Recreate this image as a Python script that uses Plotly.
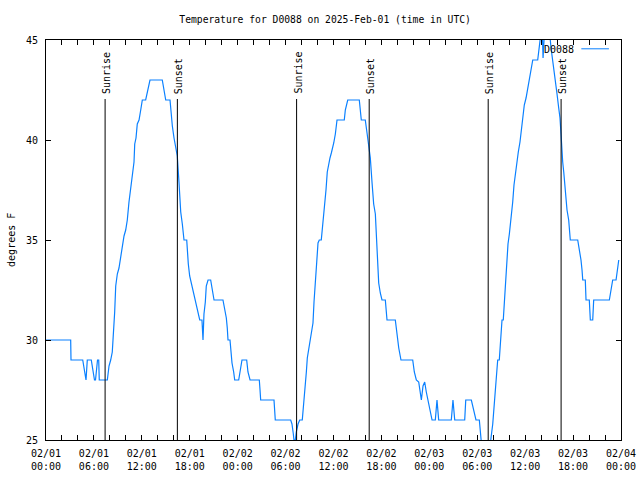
import pandas as pd
import plotly.graph_objects as go

# ---- data (hours after 2025-02-01 00:00 UTC, temperature in degrees F) ----
hours = [
    0, 3.09, 3.13, 4.60, 5.01, 5.17, 5.67, 6.07, 6.20, 6.32, 6.45, 6.60, 6.67, 7.68,
    7.89, 8.10, 8.30, 8.39, 8.52, 8.60, 8.73, 8.93, 9.14, 9.35, 9.55, 9.77, 9.98, 10.18,
    10.39, 10.61, 10.81, 11.02, 11.11, 11.27, 11.43, 11.65, 11.86, 12.06, 12.48, 12.68,
    13.02, 14.56, 14.78, 14.99, 15.53, 15.69, 15.82, 16.03, 16.24, 16.44, 16.65, 16.87,
    17.07, 17.28, 17.62, 17.69, 17.82, 17.99, 18.19, 18.41, 18.62, 18.82, 19.03, 19.25,
    19.53, 19.66, 19.78, 19.95, 20.07, 20.29, 20.62, 20.79, 21.04, 22.16, 22.38, 22.58,
    22.70, 22.79, 23.04, 23.13, 23.29, 23.50, 23.63, 24.13, 24.33, 24.54, 25.13, 25.29,
    25.55, 26.71, 26.80, 26.88, 28.55, 28.71, 30.64, 30.80, 30.97, 31.05, 31.22, 31.34,
    31.56, 31.77, 32.09, 32.22, 32.39, 32.47, 32.60, 32.72, 32.90, 33.06, 33.22, 33.43,
    33.56, 33.72, 33.90, 34.06, 34.22, 34.47, 34.60, 34.72, 34.90, 35.06, 35.22, 35.40,
    35.56, 35.73, 35.90, 36.03, 36.23, 36.44, 37.35, 37.48, 37.78, 39.23, 39.48, 39.98,
    40.20, 40.41, 40.61, 40.82, 41.03, 41.24, 41.36, 41.49, 41.66, 41.86, 42.07, 42.49,
    42.70, 43.74, 43.95, 44.17, 44.45, 45.92, 46.12, 46.37, 46.67, 46.87, 47.00, 47.21,
    47.42, 47.62, 47.83, 48.12, 48.34, 48.75, 48.96, 49.17, 50.75, 50.96, 51.18, 52.43,
    52.56, 53.26, 53.56, 53.84, 54.26, 54.43, 54.53, 54.97, 55.69, 55.94, 56.14, 56.26,
    56.44, 56.56, 56.76, 56.85, 56.98, 57.10, 57.26, 57.39, 57.51, 57.69, 57.85, 58.02,
    58.23, 58.44, 58.60, 58.77, 58.94, 59.14, 59.35, 59.52, 59.69, 59.89, 60.11, 60.32,
    60.52, 60.73, 60.95, 61.57, 61.70, 61.86, 61.99, 62.15, 62.24, 62.42, 63.05, 63.24,
    63.53, 63.78, 63.99, 64.20, 64.36, 64.49, 64.58, 64.70, 64.83, 65.03, 65.24, 65.45,
    65.65, 66.58, 66.78, 66.99, 67.12, 67.21, 67.53, 67.62, 68.03, 68.16, 68.46, 68.58,
    70.54, 70.75, 70.96, 71.38, 71.59, 71.72,
]
temps = [
    30, 30, 29, 29, 28, 29, 29, 28, 28, 28.5, 29, 29, 28, 28,
    28.7, 29, 29.4, 30, 30.6, 31.4, 32.7, 33.3, 33.6, 34.2, 34.8, 35.2, 35.5, 36,
    36.9, 37.6, 38.3, 38.9, 39.8, 40.1, 40.8, 41, 41.5, 42, 42, 42.4,
    43, 43, 42.4, 42, 42, 41.1, 40.7, 40.1, 39.6, 39.2, 37.9, 36.4,
    35.8, 35, 35, 34.4, 33.8, 33.2, 32.85, 32.5, 32, 31.7, 31.4, 31,
    31, 30, 31.3, 31.9, 32.7, 33, 33, 32.6, 32, 32, 31.5, 31.1,
    30.6, 30, 30, 29.4, 28.85, 28.4, 28, 28, 28.4, 29, 29, 28.4,
    28, 28, 27.5, 27, 27, 26, 26, 25.8, 25.3, 25, 25, 25.4,
    25.8, 26, 26, 26.6, 27.1, 27.8, 28.4, 29.1, 29.5, 29.9, 30.4, 30.85,
    31.9, 33.2, 33.9, 34.85, 35, 35, 35.5, 36.1, 36.9, 37.5, 38.4, 38.85,
    39.1, 39.35, 39.6, 39.85, 40.3, 41, 41, 41.5, 42, 42, 41, 41,
    40.35, 39.8, 39.1, 37.9, 36.8, 36.3, 35.2, 33.8, 32.85, 32.35, 32, 32,
    31, 31, 30.3, 29.6, 29, 29, 28.4, 28, 27.9, 27.4, 27, 27.7,
    27.9, 27.4, 27, 26.5, 26, 26, 27, 26, 26, 27, 26, 26,
    27, 27, 26.5, 26, 26, 25.4, 24.8, 24.5, 25, 25.8, 26.8, 27.8,
    28.4, 29, 29, 29.5, 30.4, 31, 31, 31.9, 32.7, 33.6, 34.8, 35.3,
    36, 36.9, 37.75, 38.35, 38.85, 39.4, 39.9, 40.5, 41.1, 41.75, 42.1, 42.6,
    43, 43.5, 44, 44, 44.4, 44.9, 45.4, 45.4, 44.1, 45.4, 45.4, 44.6,
    43.8, 42.9, 42.3, 41.6, 41.1, 40.3, 39.6, 38.9, 38.4, 37.4, 36.5, 36,
    35, 35, 34.6, 34, 33.5, 33, 33, 32, 32, 31, 31, 32,
    32, 32.5, 33, 33, 33.5, 34,
]
sunrise_hours = [7.40, 31.38, 55.37]
sunset_hours = [16.45, 40.47, 64.50]
series_name = "D0088"
title_text = "Temperature for D0088 on 2025-Feb-01 (time in UTC)"
y_label = "degrees F"
start = pd.Timestamp("2025-02-01 00:00")
end = pd.Timestamp("2025-02-04 00:00")

def to_time(h):
    return start + pd.to_timedelta(h, unit="h")

times = [to_time(h) for h in hours]

FONT = "DejaVu Sans Mono"
LINE_COLOR = "#0a80ff"
fig = go.Figure()
fig.add_trace(go.Scatter(x=times, y=temps, mode="lines", name=series_name,
                         line=dict(color=LINE_COLOR, width=1.2), showlegend=False,
                         hoverinfo="skip"))

marker_top = 42.05
for hs, label in [(sunrise_hours, "Sunrise"), (sunset_hours, "Sunset")]:
    for h in hs:
        t = to_time(h)
        fig.add_shape(type="line", xref="x", yref="y", x0=t, x1=t, y0=25, y1=marker_top,
                      line=dict(color="black", width=1))
        fig.add_annotation(x=t, y=42.2, xref="x", yref="y", text=label, textangle=-90,
                           showarrow=False, xanchor="center", yanchor="bottom", xshift=1,
                           font=dict(family=FONT, size=10, color="black"))

# key (gnuplot style: text then sample line)
fig.add_annotation(x=0.921, y=0.976, xref="paper", yref="paper", text=series_name,
                   showarrow=False, xanchor="right", yanchor="middle",
                   font=dict(family=FONT, size=10, color="black"))
fig.add_shape(type="line", xref="paper", yref="paper", x0=0.931, x1=0.979, y0=0.978, y1=0.978,
              line=dict(color=LINE_COLOR, width=1))

# y axis label placed like gnuplot (left edge of the canvas)
fig.add_annotation(x=-0.061, y=0.5, xref="paper", yref="paper", text=y_label, textangle=-90,
                   showarrow=False, xanchor="center", yanchor="middle",
                   font=dict(family=FONT, size=10, color="black"))

fig.update_layout(
    width=640, height=480,
    margin=dict(l=46, r=19, t=40, b=40, autoexpand=False),
    paper_bgcolor="white", plot_bgcolor="white",
    font=dict(family=FONT, size=10, color="black"),
    title=dict(text=title_text, x=0.508, xanchor="center", y=0.96, yanchor="middle",
               font=dict(family=FONT, size=9.7, color="black")),
)
fig.update_xaxes(
    range=[start, end], type="date", tick0=start, dtick=6 * 3600 * 1000,
    tickformat="%m/%d<br>%H:%M", ticks="inside", ticklen=5, tickcolor="black",
    showline=True, linecolor="black", linewidth=1, mirror="ticks", showgrid=False,
    zeroline=False, ticklabelstandoff=4, automargin=False,
    minor=dict(ticks="inside", ticklen=5, dtick=2 * 3600 * 1000, tickcolor="black", showgrid=False),
)
fig.update_yaxes(
    range=[25, 45], dtick=5, ticks="inside", ticklen=5, tickcolor="black",
    showline=True, linecolor="black", linewidth=1, mirror="ticks", showgrid=False,
    zeroline=False, ticklabelstandoff=5, automargin=False,
)

fig.write_html("out.html", config={"displayModeBar": False},
               post_script="document.body.style.margin='0px';")
